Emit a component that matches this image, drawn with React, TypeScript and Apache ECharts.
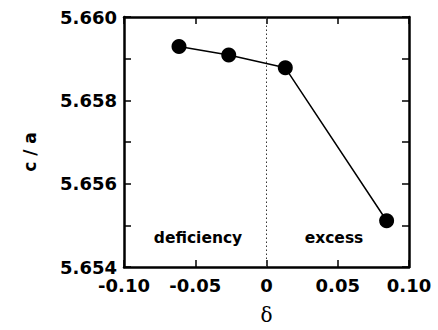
import React, { useEffect, useRef } from "react";
import * as echarts from "echarts";

const deltaValues = [-0.0614, -0.0265, 0.0132, 0.0843];
const caValues = [5.65929, 5.65909, 5.65878, 5.65511];
const xTickLabels: Record<string, string> = {
  "-0.1": "-0.10",
  "-0.05": "-0.05",
  "0": "0",
  "0.05": "0.05",
  "0.1": "0.10",
};
const regionLabels = ["deficiency", "excess"];
const yAxisTitle = "c / a";

const FONT = "DejaVu Sans";

export default function App() {
  const ref = useRef<HTMLDivElement>(null);
  useEffect(() => {
    const chart = echarts.init(ref.current!, null, { renderer: "svg" });
    const axisLine = { show: true, onZero: false, lineStyle: { color: "#000", width: 2.5 } };
    const tick = { show: true, inside: true, length: 7, lineStyle: { color: "#000", width: 1.5 } };
    const labelStyle = { color: "#000", fontFamily: FONT, fontWeight: "bold" as const, fontSize: 18 };
    chart.setOption({
      animation: false,
      backgroundColor: "#fff",
      grid: { left: 124, right: 29, top: 17, bottom: 63, containLabel: false },
      xAxis: [
        {
          type: "value",
          min: -0.1,
          max: 0.1,
          interval: 0.05,
          position: "bottom",
          axisLine,
          axisTick: tick,
          splitLine: { show: false },
          axisLabel: {
            ...labelStyle,
            margin: 9,
            formatter: (v: number) => xTickLabels[String(Math.round(v * 100) / 100)] ?? "",
          },
          name: "δ",
          nameLocation: "middle",
          nameGap: 38,
          nameTextStyle: { color: "#000", fontFamily: "DejaVu Serif", fontSize: 20 },
        },
        {
          type: "value",
          min: -0.1,
          max: 0.1,
          interval: 0.05,
          position: "top",
          axisLine,
          axisTick: tick,
          splitLine: { show: false },
          axisLabel: { show: false },
        },
      ],
      yAxis: [
        {
          type: "value",
          min: 5.654,
          max: 5.66,
          interval: 0.001,
          position: "left",
          axisLine,
          axisTick: tick,
          splitLine: { show: false },
          axisLabel: {
            ...labelStyle,
            margin: 7,
            formatter: (v: number) => (Math.round(v * 1000) % 2 === 0 ? v.toFixed(3) : ""),
          },
        },
        {
          type: "value",
          min: 5.654,
          max: 5.66,
          interval: 0.001,
          position: "right",
          axisLine,
          axisTick: tick,
          splitLine: { show: false },
          axisLabel: { show: false },
        },
      ],
      series: [
        {
          type: "line",
          data: deltaValues.map((d, i) => [d, caValues[i]]),
          symbol: "circle",
          symbolSize: 15,
          itemStyle: { color: "#000" },
          lineStyle: { color: "#000", width: 1.5 },
          markLine: {
            silent: true,
            symbol: "none",
            label: { show: false },
            lineStyle: { color: "#333", type: [1.5, 2.5], width: 1 },
            data: [{ xAxis: 0 }],
          },
        },
      ],
      graphic: [
        {
          type: "text",
          x: 30,
          y: 152,
          rotation: Math.PI / 2,
          style: {
            text: yAxisTitle,
            fontFamily: FONT,
            fontWeight: "bold",
            fontSize: 17,
            fill: "#000",
            align: "center",
            verticalAlign: "middle",
          },
        },
        {
          type: "text",
          x: 198,
          y: 238,
          style: {
            text: regionLabels[0],
            fontFamily: FONT,
            fontWeight: "bold",
            fontSize: 15.5,
            fill: "#000",
            align: "center",
            verticalAlign: "middle",
          },
        },
        {
          type: "text",
          x: 334,
          y: 238,
          style: {
            text: regionLabels[1],
            fontFamily: FONT,
            fontWeight: "bold",
            fontSize: 15.5,
            fill: "#000",
            align: "center",
            verticalAlign: "middle",
          },
        },
      ],
    });
    return () => chart.dispose();
  }, []);
  return (
    <div
      ref={ref}
      style={{ position: "fixed", left: 0, top: 0, width: 438, height: 330 }}
    />
  );
}
